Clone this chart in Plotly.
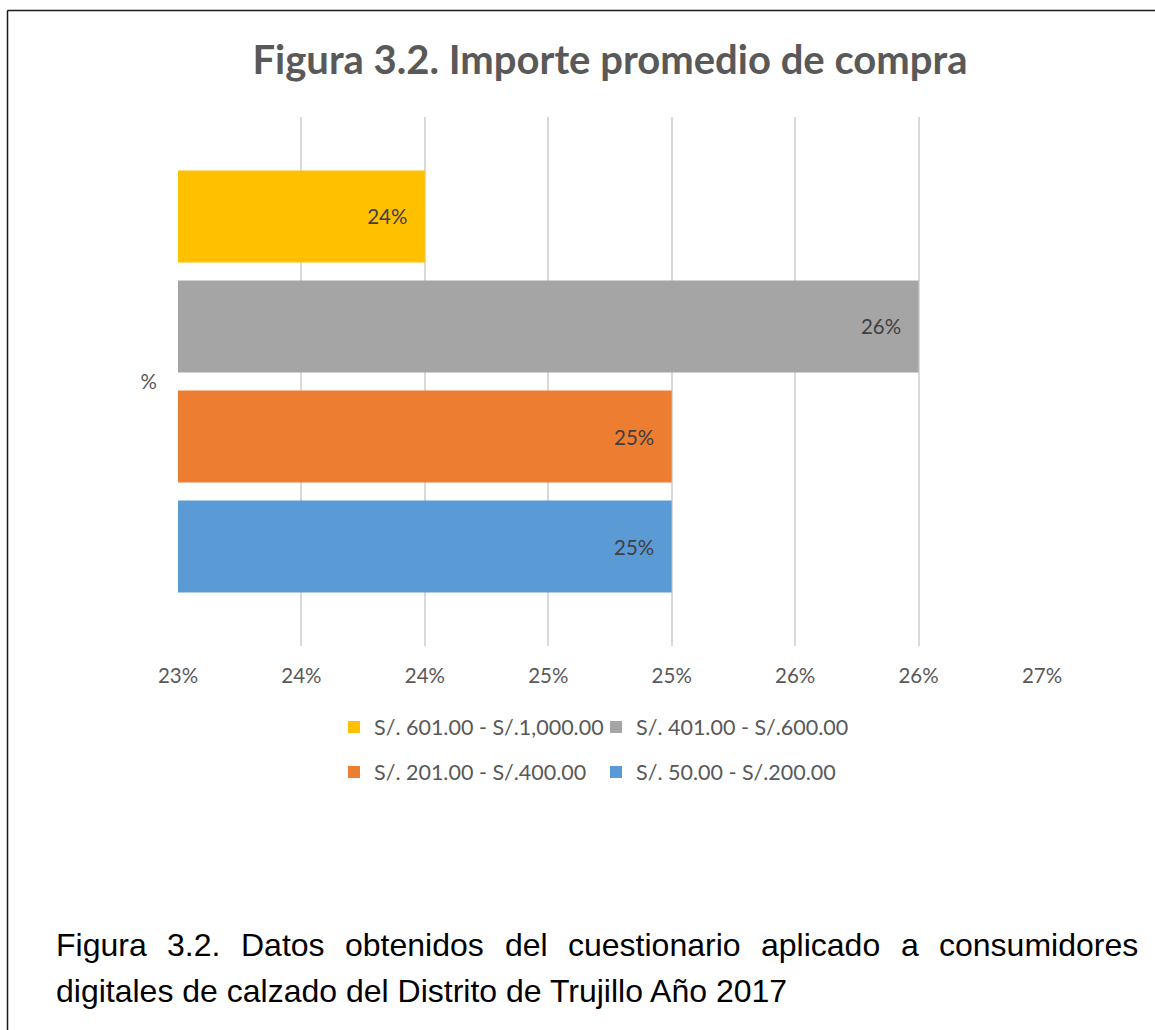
import plotly.graph_objects as go

# ---- data -------------------------------------------------------------
category = ["%"]
series_names = [
    "S/. 50.00 - S/.200.00",
    "S/. 201.00 - S/.400.00",
    "S/. 401.00 - S/.600.00",
    "S/. 601.00 - S/.1,000.00",
]
series_values = [0.25, 0.25, 0.26, 0.24]
series_colors = ["#5B9BD5", "#ED7D31", "#A5A5A5", "#FFC000"]
series_legend = ["legend2", "legend2", "legend", "legend"]

tick_values = [0.23, 0.235, 0.24, 0.245, 0.25, 0.255, 0.26, 0.265]
tick_labels = ["23%", "24%", "24%", "25%", "25%", "26%", "26%", "27%"]

title_text = "Figura 3.2. Importe promedio de compra"
caption_line1 = "Figura 3.2. Datos obtenidos del cuestionario aplicado a consumidores"
caption_line2 = "digitales de calzado del Distrito de Trujillo Año 2017"

# ---- page geometry (pixels) --------------------------------------------
W, H = 1155, 1030
L, R, T, B = 178, 1042, 117, 646


def px_x(px):
    return (px - L) / (R - L)


def px_y(py):
    return (B - py) / (B - T)


CHART_FONT = "Lato, Calibri, Carlito, sans-serif"
TEXT_GREY = "#595959"

fig = go.Figure()
for name, val, col, lg in zip(series_names, series_values, series_colors, series_legend):
    fig.add_trace(go.Bar(
        y=category,
        x=[val],
        name=name,
        orientation="h",
        marker=dict(color=col, line=dict(width=0)),
        texttemplate="%{x:.0%}\u2007\u2009",
        textposition="inside",
        insidetextanchor="end",
        textangle=0,
        insidetextfont=dict(family=CHART_FONT, size=20.5, color="#404040"),
        legend=lg,
        hoverinfo="skip",
    ))

# ---- caption below the chart, justified on the first line --------------
CAP_SIZE = 32
adv = {
    "F": 611, "i": 222, "g": 556, "u": 556, "r": 333, "a": 556, "3": 556,
    ".": 278, "2": 556, "D": 722, "t": 278, "o": 556, "s": 500, "b": 556,
    "e": 556, "n": 556, "d": 556, "l": 222, "c": 500, "p": 556, "m": 833,
}
words = caption_line1.split(" ")
widths = [sum(adv.get(ch, 556) for ch in w) * CAP_SIZE / 1000 for w in words]
line_left, line_right = 54, 1136
gap = (line_right - line_left - sum(widths)) / (len(words) - 1)

cap_font = dict(family="Liberation Sans, Arial, sans-serif", size=CAP_SIZE, color="#000000")
annotations = []
xpos = line_left
for w, wd in zip(words, widths):
    annotations.append(dict(
        text=w, x=px_x(xpos), y=px_y(945), xref="paper", yref="paper",
        xanchor="left", yanchor="middle", showarrow=False, font=cap_font,
    ))
    xpos += wd + gap
annotations.append(dict(
    text=caption_line2, x=px_x(line_left), y=px_y(991), xref="paper", yref="paper",
    xanchor="left", yanchor="middle", showarrow=False, font=cap_font,
))

# ---- frame around the figure -------------------------------------------
frame = [
    dict(type="line", xref="paper", yref="paper",
         x0=px_x(7.5), x1=px_x(W + 2), y0=px_y(10.5), y1=px_y(10.5),
         line=dict(color="#1a1a1a", width=1.5)),
    dict(type="line", xref="paper", yref="paper",
         x0=px_x(7.5), x1=px_x(7.5), y0=px_y(10.5), y1=px_y(H + 2),
         line=dict(color="#1a1a1a", width=1.5)),
]

legend_common = dict(
    orientation="h", xanchor="left", yanchor="middle",
    traceorder="reversed", bgcolor="rgba(0,0,0,0)",
    font=dict(family=CHART_FONT, size=21.5, color=TEXT_GREY),
    entrywidth=217, entrywidthmode="pixels",
)

fig.update_layout(
    width=W, height=H,
    margin=dict(l=L, r=W - R, t=T, b=H - B, pad=0),
    paper_bgcolor="white", plot_bgcolor="white",
    barmode="group", bargap=0.168, bargroupgap=0.164,
    title=dict(
        text=f"<b>{title_text}</b>", x=0.5, xref="paper",
        y=1 - 60 / H, yanchor="middle",
        font=dict(family=CHART_FONT, size=40, color=TEXT_GREY),
    ),
    xaxis=dict(
        range=[0.23, 0.265], tickvals=tick_values, ticktext=tick_labels,
        showgrid=True, gridcolor="#D9D9D9", gridwidth=1.5,
        zeroline=False, showline=False, ticks="",
        ticklabelstandoff=15,
        tickfont=dict(family=CHART_FONT, size=20.5, color=TEXT_GREY),
        fixedrange=True,
    ),
    yaxis=dict(
        showgrid=False, zeroline=False, showline=False, ticks="",
        ticklabelstandoff=20,
        tickfont=dict(family=CHART_FONT, size=20.5, color=TEXT_GREY),
        fixedrange=True,
    ),
    legend=dict(x=px_x(334), y=px_y(727), **legend_common),
    legend2=dict(x=px_x(334), y=px_y(772), **legend_common),
    annotations=annotations,
    shapes=frame,
    showlegend=True,
)

fig.write_html("out.html")
